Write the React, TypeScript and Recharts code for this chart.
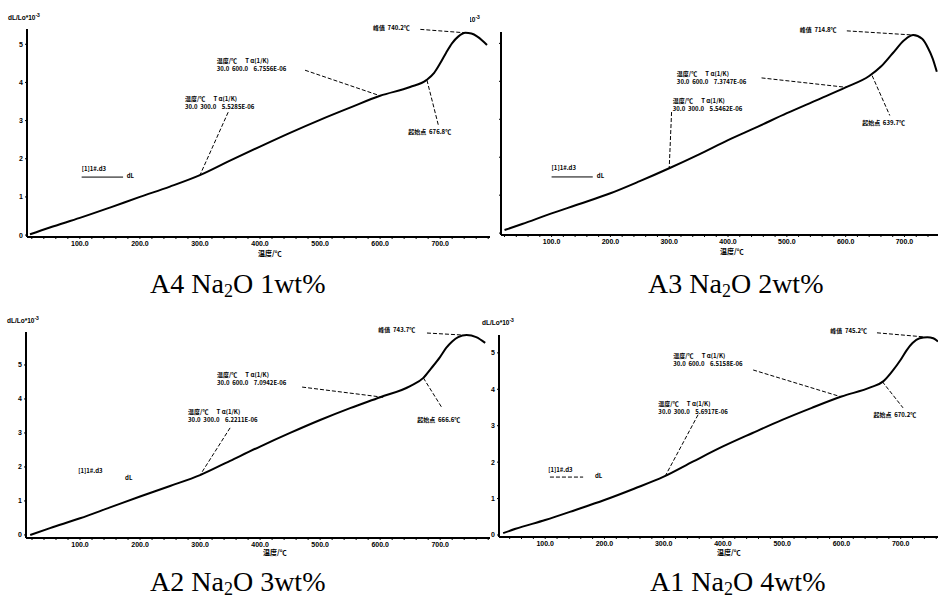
import React from 'react';
import { LineChart, Line, XAxis, YAxis, ReferenceLine, ReferenceDot } from 'recharts';

// dilatometer curves: dL/Lo (x10^-3) against temperature (°C)
const A4_TEMP = [17, 50, 100, 150, 200, 250, 300, 350, 400, 450, 500, 550, 600, 650, 677, 690, 700, 710, 720, 730, 742, 752, 762, 770, 778];
const A4_DL = [0.02, 0.2, 0.45, 0.72, 1.0, 1.27, 1.57, 1.95, 2.32, 2.68, 3.02, 3.34, 3.65, 3.88, 4.06, 4.25, 4.5, 4.78, 5.03, 5.2, 5.3, 5.28, 5.2, 5.1, 4.98];

const A3_TEMP = [20, 50, 100, 150, 200, 250, 300, 350, 400, 450, 500, 550, 600, 640, 660, 680, 700, 715, 730, 740, 748, 755];
const A3_DL = [0.08, 0.24, 0.52, 0.78, 1.05, 1.37, 1.71, 2.07, 2.45, 2.8, 3.16, 3.5, 3.84, 4.14, 4.39, 4.74, 5.09, 5.22, 5.12, 4.88, 4.6, 4.25];

const A2_TEMP = [17, 50, 100, 150, 200, 250, 300, 350, 400, 450, 500, 550, 600, 650, 672, 685, 700, 710, 720, 730, 744, 760, 775];
const A2_DL = [0.0, 0.2, 0.49, 0.81, 1.13, 1.44, 1.76, 2.18, 2.6, 3.0, 3.38, 3.73, 4.05, 4.38, 4.62, 4.9, 5.24, 5.5, 5.69, 5.82, 5.88, 5.82, 5.65];

const A1_TEMP = [29, 50, 100, 150, 200, 250, 300, 350, 400, 450, 500, 550, 600, 650, 670, 685, 700, 710, 720, 732, 745, 755, 763];
const A1_DL = [0.05, 0.17, 0.41, 0.68, 0.96, 1.27, 1.6, 2.02, 2.43, 2.8, 3.16, 3.49, 3.8, 4.06, 4.21, 4.48, 4.81, 5.07, 5.27, 5.4, 5.43, 5.4, 5.31];

const X_TICKS = [20, 40, 60, 80, 100, 120, 140, 160, 180, 200, 220, 240, 260, 280, 300, 320, 340, 360, 380, 400, 420, 440, 460, 480, 500, 520, 540, 560, 580, 600, 620, 640, 660, 680, 700, 720, 740, 760, 780];
const Y_TICKS = [0, 1, 2, 3, 4, 5];

const HEAD = '温度/℃      T α(1/K)';

const CJK = '"Noto Sans CJK SC", "Liberation Sans", sans-serif';
const SANS = '"Liberation Sans", Arial, sans-serif';

type Note = { x: number; y: number; lines: string[] };
type Seg = { a: [number, number]; b: [number, number]; solid?: boolean };

interface PanelProps {
  temp: number[];
  dl: number[];
  left: number;
  top: number;
  width: number;
  height: number;
  plotLeft: number;
  plotTop: number;
  plotBottom: number;
  xDomain: [number, number];
  yDomain: [number, number];
  showYLabels: boolean;
  notes: Note[];
  segs: Seg[];
  yTitle: [number, number];
  xTitle: [number, number];
  clip?: boolean;
}

const noteShape = (lines: string[]) => (p: any) => (
  <text x={p.cx} y={p.cy} fontSize={6} fontWeight="bold" fontFamily={CJK} fill="#000" style={{ whiteSpace: 'pre' }}>
    {lines.map((l, i) => (
      <tspan key={i} x={p.cx} dy={i === 0 ? 0 : 8}>{l}</tspan>
    ))}
  </text>
);

function Panel(p: PanelProps) {
  const rows = p.temp.map((t, i) => ({ temp: t, dl: p.dl[i] }));
  return (
    <div style={{ position: 'absolute', left: p.left, top: p.top, width: p.width, height: p.height, overflow: p.clip ? 'hidden' : 'visible' }}>
      <LineChart width={p.width} height={p.height} data={rows} margin={{ top: p.plotTop, right: 0, bottom: 0, left: 0 }}>
        <XAxis
          type="number"
          dataKey="temp"
          domain={p.xDomain}
          allowDataOverflow
          ticks={X_TICKS.filter(t => t > p.xDomain[0] && t < p.xDomain[1])}
          tickFormatter={(v: number) => (v % 100 === 0 ? v.toFixed(1) : '')}
          height={p.height - p.plotBottom}
          axisLine={{ stroke: '#000', strokeWidth: 2 }}
          tickLine={{ stroke: '#000' }}
          tickSize={2}
          tick={{ fill: '#000', fontSize: 7, fontWeight: 'bold', fontFamily: SANS }}
          interval={0}
        />
        <YAxis
          type="number"
          domain={p.yDomain}
          allowDataOverflow
          ticks={Y_TICKS.filter(t => t <= p.yDomain[1])}
          tickFormatter={(v: number) => (p.showYLabels ? String(v) : '')}
          width={p.plotLeft}
          axisLine={{ stroke: '#000', strokeWidth: 2 }}
          tickLine={{ stroke: '#000' }}
          tickSize={2}
          tick={{ fill: '#000', fontSize: 7, fontWeight: 'bold', fontFamily: SANS }}
        />
        {p.segs.map((s, i) => (
          <ReferenceLine
            key={'s' + i}
            segment={[{ x: s.a[0], y: s.a[1] }, { x: s.b[0], y: s.b[1] }]}
            stroke="#000"
            strokeWidth={1}
            strokeDasharray={s.solid ? undefined : '4 2'}
            ifOverflow="visible"
          />
        ))}
        {p.notes.map((n, i) => (
          <ReferenceDot key={'n' + i} x={n.x} y={n.y} r={0} ifOverflow="visible" shape={noteShape(n.lines)} />
        ))}
        <Line type="monotone" dataKey="dl" stroke="#000" strokeWidth={2} dot={false} isAnimationActive={false} />
      </LineChart>
      <div style={{ position: 'absolute', left: p.yTitle[0], top: p.yTitle[1], fontFamily: SANS, fontSize: 6.5, fontWeight: 'bold', whiteSpace: 'nowrap' }}>
        dL/Lo*10<sup style={{ fontSize: 5 }}>-3</sup>
      </div>
      <div style={{ position: 'absolute', left: p.xTitle[0], top: p.xTitle[1], fontFamily: CJK, fontSize: 7, lineHeight: 1, fontWeight: 'bold', whiteSpace: 'nowrap' }}>
        温度/℃
      </div>
    </div>
  );
}

function Caption({ id, pct, left, top }: { id: string; pct: string; left: number; top: number }) {
  return (
    <div style={{ position: 'absolute', left, top, fontFamily: '"Liberation Serif", "Times New Roman", serif', fontSize: 28, lineHeight: 1, whiteSpace: 'nowrap', color: '#000' }}>
      {id} Na<sub style={{ fontSize: 18, verticalAlign: -4 }}>2</sub>O {pct}
    </div>
  );
}

export default function App() {
  return (
    <div style={{ position: 'fixed', left: 0, top: 0, width: 938, height: 605, background: '#fff', overflow: 'hidden' }}>
      <Panel
        temp={A4_TEMP} dl={A4_DL}
        left={0} top={0} width={490} height={262}
        plotLeft={27} plotTop={29} plotBottom={237}
        xDomain={[12, 783]} yDomain={[-0.05, 5.4]} showYLabels
        yTitle={[8, 12]} xTitle={[258, 250]}
        notes={[
          { x: 275, y: 3.52, lines: [HEAD, '30.0  300.0    5.5285E-06'] },
          { x: 328, y: 4.5, lines: [HEAD, '30.0  600.0    6.7556E-06'] },
          { x: 588, y: 5.37, lines: ['峰值  740.2℃'] },
          { x: 647, y: 2.65, lines: ['起始点  676.8℃'] },
          { x: 103, y: 1.68, lines: ['[1]1#.d3'] },
          { x: 178, y: 1.5, lines: ['dL'] },
        ]}
        segs={[
          { a: [347, 3.22], b: [300, 1.57] },
          { a: [475, 4.32], b: [600, 3.65] },
          { a: [667, 5.39], b: [742, 5.3] },
          { a: [678, 4.06], b: [697, 2.88] },
          { a: [103, 1.52], b: [172, 1.52], solid: true },
        ]}
      />
      <Panel
        temp={A3_TEMP} dl={A3_DL}
        left={470} top={0} width={468} height={262} clip
        plotLeft={31} plotTop={32} plotBottom={235}
        xDomain={[14, 757]} yDomain={[-0.05, 5.3]} showYLabels={false}
        yTitle={[-22, 14]} xTitle={[250, 248]}
        notes={[
          { x: 313, y: 4.13, lines: [HEAD, '30.0  600.0    7.3747E-06'] },
          { x: 306, y: 3.42, lines: [HEAD, '30.0  300.0    5.5462E-06'] },
          { x: 522, y: 5.3, lines: ['峰值  714.8℃'] },
          { x: 628, y: 2.85, lines: ['起始点  639.7℃'] },
          { x: 100, y: 1.66, lines: ['[1]1#.d3'] },
          { x: 177, y: 1.45, lines: ['dL'] },
        ]}
        segs={[
          { a: [304, 3.19], b: [300, 1.71] },
          { a: [457, 4.09], b: [602, 3.84] },
          { a: [602, 5.33], b: [715, 5.22] },
          { a: [645, 4.15], b: [675, 3.1] },
          { a: [100, 1.48], b: [170, 1.48], solid: true },
        ]}
      />
      <Panel
        temp={A2_TEMP} dl={A2_DL}
        left={0} top={300} width={490} height={262}
        plotLeft={26} plotTop={32} plotBottom={238}
        xDomain={[10, 783]} yDomain={[-0.09, 5.97]} showYLabels
        yTitle={[7, 15]} xTitle={[263, 249]}
        notes={[
          { x: 328, y: 4.64, lines: [HEAD, '30.0  600.0    7.0942E-06'] },
          { x: 280, y: 3.55, lines: [HEAD, '30.0  300.0    6.2211E-06'] },
          { x: 597, y: 5.97, lines: ['峰值  743.7℃'] },
          { x: 662, y: 3.32, lines: ['起始点  666.6℃'] },
          { x: 97, y: 1.82, lines: ['[1]1#.d3'] },
          { x: 175, y: 1.62, lines: ['dL'] },
        ]}
        segs={[
          { a: [350, 3.15], b: [300, 1.76] },
          { a: [470, 4.35], b: [605, 4.05] },
          { a: [678, 5.94], b: [738, 5.88] },
          { a: [672, 4.62], b: [703, 3.74] },
        ]}
      />
      <Panel
        temp={A1_TEMP} dl={A1_DL}
        left={470} top={300} width={468} height={262} clip
        plotLeft={29} plotTop={35} plotBottom={237}
        xDomain={[22, 763]} yDomain={[-0.055, 5.49]} showYLabels
        yTitle={[12, 17]} xTitle={[247, 249]}
        notes={[
          { x: 316, y: 4.86, lines: [HEAD, '30.0  600.0    6.5158E-06'] },
          { x: 291, y: 3.54, lines: [HEAD, '30.0  300.0    5.6917E-06'] },
          { x: 581, y: 5.55, lines: ['峰值  745.2℃'] },
          { x: 654, y: 3.24, lines: ['起始点  670.2℃'] },
          { x: 105, y: 1.73, lines: ['[1]1#.d3'] },
          { x: 184, y: 1.57, lines: ['dL'] },
        ]}
        segs={[
          { a: [358, 3.3], b: [302, 1.6] },
          { a: [451, 4.53], b: [598, 3.8] },
          { a: [660, 5.55], b: [738, 5.44] },
          { a: [669, 4.21], b: [704, 3.49] },
          { a: [108, 1.59], b: [164, 1.59] },
        ]}
      />
      <Caption id="A4" pct="1wt%" left={150} top={270} />
      <Caption id="A3" pct="2wt%" left={648} top={270} />
      <Caption id="A2" pct="3wt%" left={150} top={568} />
      <Caption id="A1" pct="4wt%" left={650} top={568} />
    </div>
  );
}
